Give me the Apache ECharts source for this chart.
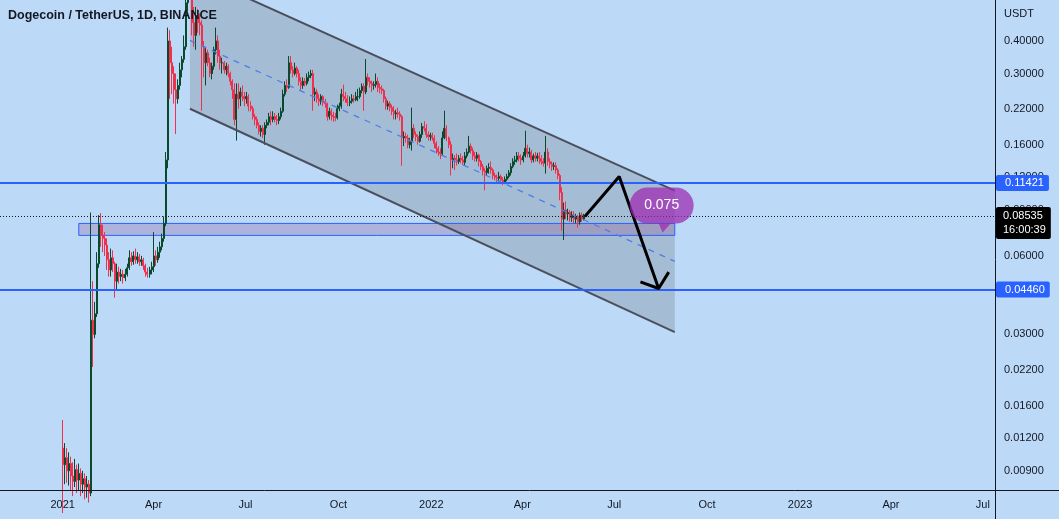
<!DOCTYPE html>
<html>
<head>
<meta charset="utf-8">
<script src="https://cdn.jsdelivr.net/npm/echarts@6/dist/echarts.min.js"></script>
<style>
html,body{margin:0;padding:0;background:#bcdaf8;}
#chart{width:1059px;height:519px;}
</style>
</head>
<body>
<div id="chart"></div>
<script>
const DAY = 86400000;
function t(s) { return Date.parse(s + 'T00:00:00Z'); }

// ---- data ----
const candleStart = '2021-01-01';
const candleStepDays = 2;
// rows: [open, close, low, high]
const ohlc = [
  // Jan 2021
  [0.0110,0.0095,0.0062,0.0141],[0.0095,0.0101,0.0080,0.0115],[0.0101,0.0090,0.0081,0.0110],[0.0090,0.0096,0.0079,0.0106],[0.0096,0.0086,0.0076,0.0102],[0.0086,0.0082,0.0072,0.0097],[0.0082,0.0091,0.0078,0.0100],[0.0091,0.0083,0.0074,0.0095],[0.0083,0.0088,0.0076,0.0096],[0.0088,0.0080,0.0072,0.0092],[0.0080,0.0084,0.0074,0.0090],[0.0084,0.0078,0.0070,0.0088],[0.0078,0.0080,0.0071,0.0086],[0.0080,0.0074,0.0068,0.0083],
  [0.0074,0.0340,0.0072,0.0880],[0.0340,0.0300,0.0225,0.0480],
  // Feb 2021
  [0.0300,0.0360,0.0290,0.0400],[0.0360,0.0560,0.0350,0.0620],[0.0560,0.0790,0.0540,0.0860],[0.0790,0.0720,0.0650,0.0875],[0.0720,0.0700,0.0620,0.0790],[0.0700,0.0660,0.0600,0.0740],[0.0660,0.0580,0.0530,0.0700],[0.0580,0.0530,0.0500,0.0620],[0.0530,0.0590,0.0500,0.0640],[0.0590,0.0560,0.0520,0.0630],[0.0560,0.0480,0.0415,0.0570],[0.0480,0.0520,0.0440,0.0560],[0.0520,0.0500,0.0470,0.0545],
  // Mar 2021
  [0.0500,0.0510,0.0480,0.0535],[0.0510,0.0495,0.0470,0.0530],[0.0495,0.0510,0.0480,0.0535],[0.0510,0.0540,0.0500,0.0560],[0.0540,0.0590,0.0530,0.0630],[0.0590,0.0570,0.0550,0.0620],[0.0570,0.0600,0.0555,0.0625],[0.0600,0.0580,0.0560,0.0640],[0.0580,0.0595,0.0560,0.0620],[0.0595,0.0570,0.0550,0.0610],[0.0570,0.0580,0.0550,0.0600],[0.0580,0.0550,0.0530,0.0590],[0.0550,0.0520,0.0500,0.0560],[0.0520,0.0510,0.0495,0.0540],[0.0510,0.0530,0.0495,0.0545],[0.0530,0.0545,0.0510,0.0570],
  // Apr 2021
  [0.0545,0.0600,0.0520,0.0740],[0.0600,0.0580,0.0550,0.0630],[0.0580,0.0620,0.0565,0.0650],[0.0620,0.0650,0.0590,0.0680],[0.0650,0.0700,0.0630,0.0730],[0.0700,0.0800,0.0680,0.0850],[0.0800,0.1400,0.0780,0.1500],[0.1400,0.4000,0.1300,0.4500],[0.4000,0.3300,0.2400,0.4400],[0.3300,0.3000,0.2500,0.3800],[0.3000,0.2600,0.2300,0.3200],[0.2600,0.2400,0.1760,0.3000],[0.2400,0.2700,0.2300,0.2850],[0.2700,0.3100,0.2600,0.3300],[0.3100,0.3400,0.2900,0.3500],
  // May 2021
  [0.340,0.380,0.330,0.420],[0.380,0.560,0.370,0.620],[0.560,0.660,0.520,0.690],[0.660,0.700,0.600,0.740],[0.700,0.470,0.420,0.720],[0.470,0.420,0.380,0.540],[0.420,0.500,0.370,0.540],[0.500,0.470,0.430,0.530],[0.470,0.460,0.420,0.510],[0.460,0.380,0.216,0.480],[0.380,0.330,0.290,0.400],[0.330,0.360,0.270,0.380],[0.360,0.330,0.320,0.370],[0.330,0.300,0.290,0.345],[0.300,0.320,0.285,0.330],[0.320,0.370,0.310,0.380],
  // Jun 2021
  [0.370,0.400,0.355,0.450],[0.400,0.350,0.330,0.420],[0.350,0.330,0.310,0.370],[0.330,0.330,0.300,0.345],[0.330,0.310,0.300,0.335],[0.310,0.320,0.295,0.330],[0.320,0.300,0.290,0.325],[0.300,0.280,0.270,0.305],[0.280,0.260,0.240,0.285],[0.260,0.200,0.190,0.275],[0.200,0.250,0.166,0.275],[0.250,0.240,0.220,0.275],[0.240,0.255,0.225,0.265],[0.255,0.245,0.235,0.270],
  // Jul 2021
  [0.245,0.240,0.225,0.255],[0.240,0.245,0.230,0.255],[0.245,0.225,0.215,0.250],[0.225,0.220,0.215,0.235],[0.220,0.205,0.200,0.225],[0.205,0.200,0.190,0.210],[0.200,0.190,0.185,0.205],[0.190,0.180,0.175,0.195],[0.180,0.185,0.172,0.190],[0.185,0.175,0.170,0.190],[0.175,0.190,0.160,0.195],[0.190,0.195,0.185,0.200],[0.195,0.205,0.190,0.212],[0.205,0.200,0.190,0.215],[0.200,0.205,0.195,0.215],[0.205,0.200,0.195,0.212],
  // Aug 2021
  [0.200,0.198,0.190,0.208],[0.198,0.205,0.192,0.212],[0.205,0.215,0.200,0.222],[0.215,0.250,0.212,0.260],[0.250,0.270,0.245,0.280],[0.270,0.265,0.255,0.285],[0.265,0.330,0.262,0.350],[0.330,0.310,0.300,0.350],[0.310,0.300,0.290,0.320],[0.300,0.315,0.295,0.330],[0.315,0.300,0.290,0.320],[0.300,0.280,0.270,0.310],[0.280,0.270,0.260,0.290],[0.270,0.280,0.262,0.290],[0.280,0.275,0.268,0.288],
  // Sep 2021
  [0.275,0.290,0.270,0.300],[0.290,0.295,0.280,0.305],[0.295,0.300,0.288,0.310],[0.300,0.250,0.216,0.310],[0.250,0.255,0.235,0.265],[0.255,0.240,0.232,0.262],[0.240,0.235,0.225,0.250],[0.235,0.245,0.228,0.250],[0.245,0.232,0.225,0.248],[0.232,0.230,0.222,0.240],[0.230,0.205,0.198,0.232],[0.205,0.215,0.200,0.222],[0.215,0.208,0.198,0.220],[0.208,0.205,0.196,0.214],[0.205,0.203,0.197,0.212],
  // Oct 2021
  [0.203,0.220,0.200,0.228],[0.220,0.225,0.215,0.232],[0.225,0.250,0.220,0.262],[0.250,0.245,0.235,0.272],[0.245,0.240,0.232,0.255],[0.240,0.232,0.225,0.248],[0.232,0.235,0.225,0.245],[0.235,0.240,0.230,0.250],[0.240,0.238,0.232,0.248],[0.238,0.245,0.235,0.255],[0.245,0.245,0.235,0.262],[0.245,0.258,0.240,0.265],[0.258,0.268,0.252,0.275],[0.268,0.255,0.216,0.275],[0.255,0.290,0.250,0.341],[0.290,0.280,0.270,0.300],
  // Nov 2021
  [0.280,0.275,0.265,0.290],[0.275,0.270,0.255,0.282],[0.270,0.272,0.260,0.280],[0.272,0.280,0.265,0.300],[0.280,0.265,0.255,0.290],[0.265,0.262,0.252,0.275],[0.262,0.258,0.250,0.270],[0.258,0.240,0.232,0.262],[0.240,0.225,0.218,0.245],[0.225,0.230,0.218,0.236],[0.230,0.222,0.215,0.235],[0.222,0.215,0.208,0.228],[0.215,0.210,0.200,0.225],[0.210,0.212,0.200,0.218],[0.212,0.210,0.203,0.222],
  // Dec 2021
  [0.210,0.205,0.198,0.215],[0.205,0.170,0.133,0.208],[0.170,0.172,0.158,0.180],[0.172,0.170,0.163,0.178],[0.170,0.160,0.155,0.175],[0.160,0.165,0.155,0.170],[0.165,0.185,0.152,0.222],[0.185,0.175,0.170,0.192],[0.175,0.172,0.165,0.180],[0.172,0.165,0.160,0.175],[0.165,0.175,0.163,0.180],[0.175,0.188,0.170,0.194],[0.188,0.185,0.180,0.197],[0.185,0.175,0.170,0.192],[0.175,0.172,0.166,0.180],[0.172,0.174,0.166,0.178],
  // Jan 2022
  [0.174,0.170,0.166,0.178],[0.170,0.162,0.155,0.174],[0.162,0.155,0.148,0.165],[0.155,0.150,0.145,0.158],[0.150,0.148,0.141,0.155],[0.148,0.170,0.146,0.180],[0.170,0.185,0.168,0.216],[0.185,0.170,0.165,0.190],[0.170,0.160,0.155,0.172],[0.160,0.140,0.122,0.165],[0.140,0.142,0.130,0.148],[0.142,0.140,0.128,0.146],[0.140,0.138,0.133,0.148],[0.138,0.142,0.135,0.146],[0.142,0.140,0.136,0.148],
  // Feb 2022
  [0.140,0.137,0.134,0.145],[0.137,0.145,0.133,0.150],[0.145,0.150,0.142,0.155],[0.150,0.158,0.148,0.173],[0.158,0.152,0.148,0.162],[0.152,0.145,0.140,0.156],[0.145,0.142,0.138,0.150],[0.142,0.146,0.138,0.150],[0.146,0.138,0.132,0.148],[0.138,0.132,0.128,0.140],[0.132,0.127,0.122,0.135],[0.127,0.125,0.107,0.130],[0.125,0.130,0.122,0.133],[0.130,0.131,0.124,0.136],
  // Mar 2022
  [0.131,0.128,0.124,0.138],[0.128,0.122,0.118,0.130],[0.122,0.120,0.117,0.125],[0.120,0.119,0.115,0.123],[0.119,0.121,0.116,0.126],[0.121,0.117,0.114,0.123],[0.117,0.115,0.112,0.120],[0.115,0.118,0.113,0.121],[0.118,0.121,0.116,0.124],[0.121,0.125,0.119,0.128],[0.125,0.132,0.122,0.136],[0.132,0.138,0.130,0.142],[0.138,0.140,0.134,0.145],[0.140,0.145,0.137,0.150],[0.145,0.142,0.138,0.150],[0.142,0.140,0.134,0.147],
  // Apr 2022
  [0.140,0.145,0.137,0.150],[0.145,0.155,0.143,0.181],[0.155,0.148,0.143,0.160],[0.148,0.150,0.143,0.156],[0.150,0.140,0.136,0.153],[0.140,0.145,0.137,0.148],[0.145,0.142,0.138,0.150],[0.142,0.145,0.138,0.149],[0.145,0.142,0.135,0.150],[0.142,0.138,0.134,0.146],[0.138,0.136,0.132,0.142],[0.136,0.150,0.124,0.173],[0.150,0.138,0.133,0.155],[0.138,0.135,0.130,0.142],
  // May 2022
  [0.135,0.132,0.127,0.138],[0.132,0.133,0.128,0.137],[0.133,0.128,0.124,0.137],[0.128,0.122,0.118,0.130],[0.122,0.105,0.098,0.124],[0.105,0.083,0.075,0.110],[0.083,0.090,0.069,0.096],[0.090,0.087,0.083,0.097],[0.087,0.088,0.082,0.091],[0.088,0.084,0.081,0.090],[0.084,0.086,0.081,0.089],[0.086,0.083,0.080,0.089],[0.083,0.085,0.080,0.087],[0.085,0.081,0.077,0.086],[0.081,0.086,0.079,0.088],[0.086,0.083,0.081,0.088],[0.083,0.08535,0.082,0.087]
];

const xRange = ['2020-10-31', '2023-07-13'];
const yRange = [0.0076, 0.574];
const xTickDates = ['2021-01-01','2021-04-01','2021-07-01','2021-10-01','2022-01-01','2022-04-01','2022-07-01','2022-10-01','2023-01-01','2023-04-01','2023-07-01'];
const xTickLabels = ['2021','Apr','Jul','Oct','2022','Apr','Jul','Oct','2023','Apr','Jul'];
const yTickValues = [0.009, 0.012, 0.016, 0.022, 0.03, 0.06, 0.09, 0.12, 0.16, 0.22, 0.3, 0.4];
const yTickLabels = ['0.00900','0.01200','0.01600','0.02200','0.03000','0.06000','0.09000','0.12000','0.16000','0.22000','0.30000','0.40000'];

const channelDates = ['2021-05-07', '2022-08-30'];
const channelTop = [0.734, 0.1068];
const channelBottom = [0.2198, 0.0306];
const channelMid = [0.4017, 0.0572];

const zoneDates = ['2021-01-17', '2022-08-30'];
const zonePrices = [0.0719, 0.0799];

const levelPrices = [0.11421, 0.0446];
const levelLabels = ['0.11421', '0.04460'];
const lastPrice = 0.08535;
const lastPriceLabel = '0.08535';
const countdownLabel = '16:00:39';

const pathDates = ['2022-06-02', '2022-07-06', '2022-08-14'];
const pathPrices = [0.0850, 0.1208, 0.0450];
const headDates = ['2022-07-27', '2022-08-14', '2022-08-24'];
const headPrices = [0.0477, 0.0450, 0.0520];

const noteDate = '2022-08-17';
const notePrice = 0.0936;
const noteText = '0.075';

const titleText = 'Dogecoin / TetherUS, 1D, BINANCE';
const unitText = 'USDT';

// ---- chart ----
const FONT = '"Liberation Sans", Arial, sans-serif';
const UP = '#0a4a2c';
const DOWN = '#f0304c';
const BLUE = '#2962ff';
const TEXT = '#131722';

const candleData = ohlc.map((r, i) => [t(candleStart) + i * candleStepDays * DAY, r[0], r[1], r[2], r[3]]);
const xTickTimes = xTickDates.map(t);
const pair = (ds, ps) => ds.map((d, i) => [t(d), ps[i]]);

const chart = echarts.init(document.getElementById('chart'), null, { renderer: 'canvas' });

const levelLabelBase = {
  show: true, position: 'end', distance: 1, fontSize: 11, fontFamily: FONT,
  color: '#ffffff', padding: [2, 5, 1, 9], borderRadius: 2, lineHeight: 13
};

chart.setOption({
  animation: false,
  backgroundColor: '#bcdaf8',
  textStyle: { fontFamily: FONT },
  grid: { left: 0, right: 64, top: 0, bottom: 29 },
  xAxis: {
    type: 'value',
    min: t(xRange[0]), max: t(xRange[1]),
    axisLine: { show: false }, axisTick: { show: false }, splitLine: { show: false },
    axisLabel: {
      customValues: xTickTimes,
      color: TEXT, fontSize: 11, fontFamily: FONT, margin: 9,
      formatter: (v) => { const i = xTickTimes.findIndex(x => Math.abs(x - v) < DAY); return i >= 0 ? xTickLabels[i] : ''; }
    }
  },
  yAxis: {
    type: 'log', logBase: 10, position: 'right',
    min: yRange[0], max: yRange[1],
    axisLine: { show: false }, axisTick: { show: false }, splitLine: { show: false },
    axisLabel: {
      customValues: yTickValues,
      color: TEXT, fontSize: 11, fontFamily: FONT, margin: 9,
      formatter: (v) => { const i = yTickValues.findIndex(x => Math.abs(x - v) / x < 1e-4); return i >= 0 ? yTickLabels[i] : ''; }
    }
  },
  graphic: [
    { type: 'text', left: 8, top: 9, z: 100, style: { text: titleText, font: 'bold 12.5px ' + FONT, fill: TEXT } },
    { type: 'text', left: 1004, top: 8, z: 100, style: { text: unitText, font: '11px ' + FONT, fill: TEXT } },
    { type: 'line', z: 100, shape: { x1: 995.5, y1: 0, x2: 995.5, y2: 519 }, style: { stroke: TEXT, lineWidth: 1 } },
    { type: 'line', z: 100, shape: { x1: 0, y1: 490.5, x2: 1059, y2: 490.5 }, style: { stroke: TEXT, lineWidth: 1 } }
  ],
  series: [
    {
      type: 'custom', z: 1, silent: true,
      data: [[t(channelDates[1]), channelBottom[1]]],
      renderItem: (params, api) => ({
        type: 'polygon',
        shape: { points: [
          api.coord([t(channelDates[0]), channelTop[0]]),
          api.coord([t(channelDates[1]), channelTop[1]]),
          api.coord([t(channelDates[1]), channelBottom[1]]),
          api.coord([t(channelDates[0]), channelBottom[0]])
        ] },
        style: { fill: 'rgba(112,118,134,0.30)' }
      })
    },
    {
      type: 'custom', z: 1, silent: true,
      data: [[t(zoneDates[0]), zonePrices[0]]],
      renderItem: (params, api) => {
        const a = api.coord([t(zoneDates[0]), zonePrices[1]]);
        const b = api.coord([t(zoneDates[1]), zonePrices[0]]);
        return {
          type: 'rect',
          shape: { x: a[0], y: a[1], width: b[0] - a[0], height: b[1] - a[1] },
          style: { fill: 'rgba(140,90,150,0.30)', stroke: BLUE, lineWidth: 1 }
        };
      }
    },
    {
      type: 'candlestick', z: 3, clip: true, barWidth: 1.5,
      data: candleData,
      itemStyle: { color: UP, color0: DOWN, borderColor: UP, borderColor0: DOWN, borderWidth: 1 }
    },
    {
      type: 'line', z: 4, symbol: 'none', silent: true,
      data: pair(channelDates, channelTop),
      lineStyle: { color: '#4b4f5b', width: 2 }
    },
    {
      type: 'line', z: 4, symbol: 'none', silent: true,
      data: pair(channelDates, channelBottom),
      lineStyle: { color: '#4b4f5b', width: 2 }
    },
    {
      type: 'line', z: 4, symbol: 'none', silent: true,
      data: pair(channelDates, channelMid),
      lineStyle: { color: '#4d7fe6', width: 1.3, type: [6, 6] },
      markLine: {
        symbol: ['none', 'none'], silent: true, animation: false, precision: 6,
        data: [
          { yAxis: levelPrices[0], lineStyle: { color: BLUE, width: 2, type: 'solid' },
            label: Object.assign({}, levelLabelBase, { formatter: levelLabels[0], backgroundColor: BLUE }) },
          { yAxis: levelPrices[1], lineStyle: { color: BLUE, width: 2, type: 'solid' },
            label: Object.assign({}, levelLabelBase, { formatter: levelLabels[1], backgroundColor: BLUE }) },
          { yAxis: lastPrice, lineStyle: { color: TEXT, width: 1, type: [1, 2] },
            label: Object.assign({}, levelLabelBase, { formatter: lastPriceLabel + '\n' + countdownLabel, backgroundColor: '#000000', lineHeight: 14, padding: [2, 5, 2, 7], offset: [0, 7] }) }
        ]
      }
    },
    {
      type: 'line', z: 6, symbol: 'none', silent: true,
      data: pair(pathDates, pathPrices),
      lineStyle: { color: '#000000', width: 3 }
    },
    {
      type: 'line', z: 6, symbol: 'none', silent: true,
      data: pair(headDates, headPrices),
      lineStyle: { color: '#000000', width: 3 }
    },
    {
      type: 'custom', z: 7, silent: true,
      data: [[t(noteDate), notePrice]],
      renderItem: (params, api) => {
        const c = api.coord([t(noteDate), notePrice]);
        const fill = 'rgba(156,39,176,0.72)';
        return {
          type: 'group', x: c[0], y: c[1],
          children: [
            { type: 'rect', shape: { x: -32, y: -18, width: 64, height: 36, r: 18 }, style: { fill: fill } },
            { type: 'polygon', shape: { points: [[-3, 18], [9, 18], [1, 27]] }, style: { fill: fill } },
            { type: 'text', style: { text: noteText, x: 0, y: 0, align: 'center', verticalAlign: 'middle', fill: '#ffffff', font: '14px ' + FONT } }
          ]
        };
      }
    }
  ]
});
</script>
</body>
</html>
